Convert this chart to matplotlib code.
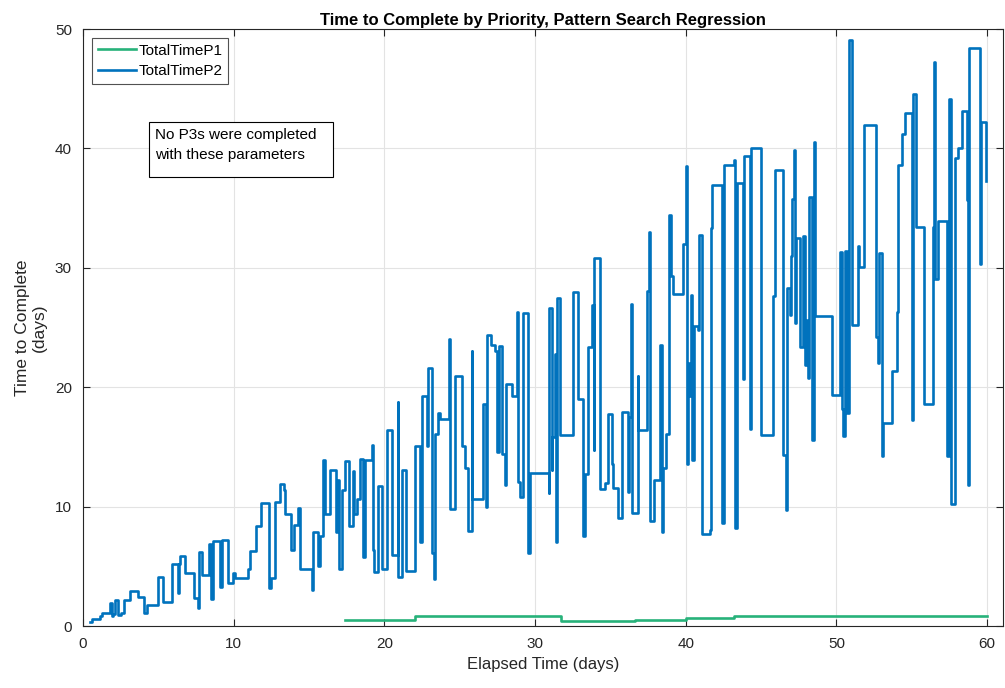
import numpy as np
import matplotlib
matplotlib.use("Agg")
import matplotlib.pyplot as plt
from matplotlib.patches import Rectangle

plt.rcParams['font.family'] = ['Liberation Sans', 'DejaVu Sans']

# P1 completion times (step changes)
p1_t = [17.4, 22.0, 31.7, 36.6, 40.0, 43.2, 60.0]
p1_v = [0.52, 0.82, 0.45, 0.48, 0.66, 0.82, 0.82]

# P2 completion times (step changes)
p2_t = [0.46, 0.57, 1.13, 1.28, 1.79, 1.90, 2.00, 2.12, 2.34, 2.52, 2.74, 3.12, 3.63,
        4.07, 4.23, 4.95, 5.29, 5.93, 6.32, 6.38, 6.44, 6.77, 7.39, 7.65, 7.72, 7.87,
        8.36, 8.49, 8.65, 9.09, 9.20, 9.60, 9.98, 10.09, 10.97, 11.08, 11.48, 11.79,
        12.36, 12.45, 12.74, 13.07, 13.34, 13.40, 13.78, 14.00, 14.29, 14.40, 15.17,
        15.28, 15.61, 15.73, 15.90, 16.06, 16.39, 16.79, 16.88, 17.00, 17.16, 17.39,
        17.67, 17.90, 17.98, 18.16, 18.38, 18.60, 18.71, 19.15, 19.27, 19.31, 19.55,
        19.60, 19.82, 20.15, 20.53, 20.88, 20.92, 21.15, 21.41, 22.03, 22.36, 22.47,
        22.80, 22.91, 23.14, 23.31, 23.35, 23.54, 23.69, 24.29, 24.36, 24.68, 25.13,
        25.35, 25.57, 25.79, 25.83, 26.56, 26.74, 26.79, 27.07, 27.34, 27.45, 27.60,
        27.82, 28.00, 28.04, 28.49, 28.78, 28.88, 29.00, 29.22, 29.50, 29.55, 29.66,
        30.92, 30.95, 31.10, 31.13, 31.32, 31.39, 31.43, 31.65, 32.54, 32.83, 33.20,
        33.30, 33.53, 33.75, 33.90, 33.93, 34.31, 34.64, 34.86, 35.08, 35.19, 35.52,
        35.79, 36.14, 36.23, 36.36, 36.45, 36.81, 36.85, 37.40, 37.56, 37.62, 37.91,
        38.29, 38.40, 38.51, 38.66, 38.88, 39.02, 39.13, 39.84, 40.00, 40.06, 40.12,
        40.21, 40.35, 40.43, 40.57, 40.79, 40.88, 41.10, 41.61, 41.65, 41.72, 42.38,
        42.53, 43.20, 43.26, 43.37, 43.81, 43.86, 44.26, 44.32, 44.99, 45.81, 45.92,
        46.47, 46.63, 46.69, 46.91, 46.98, 47.07, 47.18, 47.25, 47.29, 47.58, 47.80,
        47.91, 48.02, 48.13, 48.17, 48.35, 48.53, 48.57, 49.72, 50.23, 50.34, 50.45,
        50.56, 50.67, 50.83, 51.05, 51.40, 51.49, 51.85, 52.60, 52.73, 52.84, 53.00,
        53.11, 53.66, 53.99, 54.10, 54.32, 54.54, 55.03, 55.09, 55.25, 55.83, 56.42,
        56.49, 56.57, 56.76, 57.31, 57.46, 57.60, 57.86, 58.08, 58.30, 58.63, 58.74,
        58.79, 59.52, 59.58, 59.92]
p2_v = [0.36, 0.58, 0.87, 1.05, 1.9, 0.85, 1.0, 2.2, 0.9, 1.1, 2.2, 2.93, 2.4,
        1.1, 1.8, 4.1, 2.05, 5.2, 2.8, 5.2, 5.85, 4.45, 2.35, 1.5, 6.2, 4.3,
        6.9, 2.3, 7.15, 3.3, 7.2, 3.6, 4.4, 4.0, 4.8, 6.3, 8.4, 10.3,
        3.2, 4.0, 10.4, 11.9, 11.4, 9.4, 6.35, 8.5, 9.85, 4.8, 3.0,
        7.9, 5.0, 7.5, 13.9, 9.4, 13.1, 7.9, 12.2, 4.8, 11.4, 13.8,
        8.4, 12.95, 9.4, 10.6, 14.0, 5.8, 13.9, 15.2, 6.35, 4.55, 8.8,
        11.7, 4.8, 16.45, 5.95, 18.8, 4.1, 13.1, 4.6, 15.1, 7.06, 19.3,
        15.05, 21.6, 6.1, 3.9, 16.1, 17.8, 17.3, 24.0, 9.77, 20.9, 15.05,
        13.2, 7.96, 23.06, 10.6, 18.6, 10.0, 24.4, 23.5, 23.0, 14.6, 23.45,
        14.4, 11.8, 20.3, 19.3, 26.3, 12.1, 10.8, 26.2, 8.65, 6.1, 12.8,
        11.1, 26.6, 13.1, 15.85, 22.8, 7.06, 27.45, 16.0, 27.95, 19.0, 7.56,
        12.75, 23.4, 26.9, 14.74, 30.8, 11.45, 12.0, 17.75, 13.6, 11.6, 9.07,
        17.9, 11.2, 17.5, 27.0, 9.5, 20.9, 16.4, 28.1, 33.0, 8.8, 12.2,
        23.5, 7.9, 13.2, 16.1, 34.4, 29.3, 27.8, 32.0, 38.5, 13.6, 22.0,
        19.25, 27.7, 13.9, 25.1, 24.8, 32.75, 7.7, 8.0, 33.3, 36.9, 8.6,
        38.6, 39.0, 8.2, 37.1, 20.7, 39.4, 16.5, 40.06, 16.0, 27.6, 38.2,
        14.3, 9.7, 28.3, 26.05, 31.0, 35.8, 39.9, 25.35, 32.5, 23.4, 32.7,
        21.9, 25.6, 20.75, 35.95, 15.6, 40.5, 25.96, 19.35, 31.3, 18.2, 15.9,
        31.4, 17.8, 49.1, 25.2, 31.8, 30.1, 42.0, 24.2, 22.05, 31.2, 14.2,
        17.0, 21.36, 26.3, 38.6, 41.2, 43.0, 17.25, 44.55, 33.4, 18.6, 33.4,
        47.2, 29.1, 33.95, 14.2, 44.1, 10.2, 39.2, 40.0, 43.1, 35.7, 11.8,
        48.4, 30.3, 42.2, 37.3]

fig = plt.figure(figsize=(10.05, 6.88), dpi=100)
ax = fig.add_axes([0.0826, 0.0901, 0.9154, 0.8677])

green = '#27B27A'
blue = '#0072BD'
ax.step(p1_t, p1_v, where='post', color=green, lw=1.9, label='TotalTimeP1')
ax.step(p2_t, p2_v, where='post', color=blue, lw=1.9, label='TotalTimeP2')

ax.set_xlim(0, 61.05)
ax.set_ylim(0, 50)
ax.set_xticks(np.arange(0, 61, 10))
ax.set_yticks(np.arange(0, 51, 10))
ax.grid(True, color='#E3E3E3', lw=0.8)
ax.set_axisbelow(True)
ax.tick_params(direction='in', top=True, right=True, length=5, width=0.8,
               labelsize=11, colors='#262626', pad=8)
for s in ax.spines.values():
    s.set_color('#262626')
    s.set_linewidth(0.8)

ax.set_title('Time to Complete by Priority, Pattern Search Regression',
             fontsize=12, fontweight='bold', pad=3)
ax.set_xlabel('Elapsed Time (days)', fontsize=12, color='#262626', labelpad=4)
ax.set_ylabel('Time to Complete\n(days)', fontsize=12.5, color='#262626',
              labelpad=6, linespacing=1.15)

leg = ax.legend(loc='upper left', fontsize=11, frameon=True, fancybox=False,
                borderaxespad=0.6, handlelength=2.5, handletextpad=0.2,
                borderpad=0.35, labelspacing=0.45)
leg.get_frame().set_edgecolor('#262626')
leg.get_frame().set_linewidth(0.8)

# note box for the missing priority
ax.add_patch(Rectangle((0.0717, 0.7521), 0.2, 0.0921, transform=ax.transAxes,
                       fc='white', ec='black', lw=0.8, zorder=5))
ax.text(0.0785, 0.835, 'No P3s were completed\nwith these parameters',
        transform=ax.transAxes, fontsize=11, va='top', ha='left',
        linespacing=1.6, zorder=6)

fig.savefig('out.png', dpi=100)
